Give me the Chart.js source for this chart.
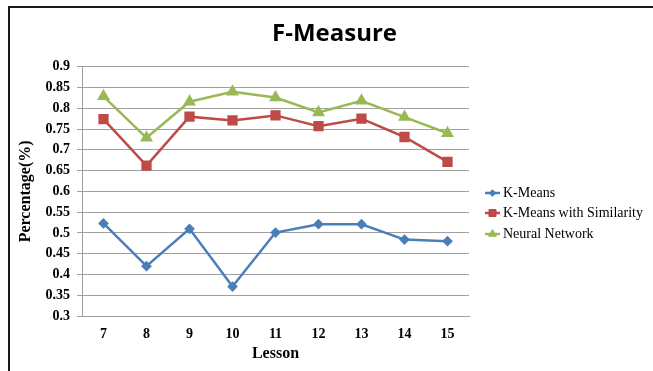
<!DOCTYPE html>
<html>
<head>
<meta charset="utf-8">
<script src="https://cdn.jsdelivr.net/npm/chart.js@4/dist/chart.umd.min.js"></script>
<style>
  html, body { margin: 0; padding: 0; background: #fff; }
  #wrap { width: 653px; height: 371px; }
</style>
</head>
<body>
<div id="wrap"><canvas id="c" width="653" height="371"></canvas></div>
<script>
// Lessons on the x axis
const lessons = ['7', '8', '9', '10', '11', '12', '13', '14', '15'];

// F-Measure per lesson for each method
const kMeans = [0.523, 0.420, 0.510, 0.371, 0.501, 0.521, 0.521, 0.484, 0.480];
const kMeansSimilarity = [0.774, 0.662, 0.780, 0.771, 0.783, 0.757, 0.775, 0.731, 0.671];
const neuralNetwork = [0.829, 0.729, 0.816, 0.840, 0.826, 0.790, 0.818, 0.779, 0.740];

// Percentage axis ticks
const yTicks = [0.3, 0.35, 0.4, 0.45, 0.5, 0.55, 0.6, 0.65, 0.7, 0.75, 0.8, 0.85, 0.9];

const serif = '"Liberation Serif", "Times New Roman", serif';

// Frame lines along the top and left of the figure
const framePlugin = {
  id: 'frame',
  beforeDraw(chart) {
    const ctx = chart.ctx;
    ctx.save();
    ctx.fillStyle = '#1a1a1a';
    ctx.fillRect(8, 6, chart.width - 8, 2);
    ctx.fillRect(8, 6, 2, chart.height - 6);
    ctx.restore();
  }
};

// Legend on the right: short line with the series marker, then the label
const sideLegend = {
  id: 'sideLegend',
  afterDraw(chart) {
    const ctx = chart.ctx;
    const x0 = 485, x1 = 500, tx = 503;
    const rows = [193, 213, 234];
    ctx.save();
    chart.data.datasets.forEach((ds, i) => {
      const y = rows[i];
      ctx.strokeStyle = ds.borderColor;
      ctx.lineWidth = 2.5;
      ctx.beginPath();
      ctx.moveTo(x0, y);
      ctx.lineTo(x1, y);
      ctx.stroke();
      ctx.fillStyle = ds.pointBackgroundColor;
      ctx.strokeStyle = ds.borderColor;
      ctx.lineWidth = 1;
      Chart.helpers.drawPoint(ctx, {
        pointStyle: ds.pointStyle,
        radius: ds.pointRadius * 0.9,
        borderWidth: 1,
        rotation: 0
      }, (x0 + x1) / 2, y);
      ctx.fillStyle = '#000';
      ctx.font = '14px ' + serif;
      ctx.textBaseline = 'middle';
      ctx.textAlign = 'left';
      ctx.fillText(ds.label, tx, y);
    });
    ctx.restore();
  }
};

function series(label, data, color, style, radius) {
  return {
    label,
    data,
    borderColor: color,
    backgroundColor: color,
    pointBackgroundColor: color,
    pointBorderColor: color,
    pointStyle: style,
    pointRadius: radius,
    pointHoverRadius: radius,
    borderWidth: 2.5,
    tension: 0,
    yAxisID: 'y'
  };
}

new Chart(document.getElementById('c'), {
  type: 'line',
  data: {
    labels: lessons,
    datasets: [
      series('K-Means', kMeans, '#4A7EBB', 'rectRot', 3.6),
      series('K-Means with Similarity', kMeansSimilarity, '#BE4B48', 'rect', 5.5),
      series('Neural Network', neuralNetwork, '#98B954', 'triangle', 5)
    ]
  },
  options: {
    responsive: false,
    animation: false,
    layout: { padding: { left: 16, right: 0, top: 0, bottom: 0 } },
    plugins: {
      legend: { display: false },
      tooltip: { enabled: false },
      title: {
        display: true,
        text: 'F-Measure',
        color: '#000',
        font: { family: '"Open Sans", sans-serif', size: 24, weight: 'bold' },
        padding: { top: 20, bottom: 18 }
      }
    },
    scales: {
      x: {
        offset: true,
        grid: { display: false, drawTicks: false },
        border: { display: true, color: '#A0A0A0', width: 1 },
        ticks: {
          color: '#000',
          padding: 10,
          font: { family: serif, size: 14, weight: 'bold' }
        },
        title: {
          display: true,
          text: 'Lesson',
          color: '#000',
          font: { family: serif, size: 16, weight: 'bold' },
          padding: { top: 0, bottom: 8 }
        },
        afterFit(s) { s.height = 55; }
      },
      y: {
        position: 'left',
        min: 0.3,
        max: 0.9,
        afterBuildTicks(s) { s.ticks = yTicks.map(v => ({ value: v })); },
        grid: { color: '#A0A0A0', lineWidth: 1, tickLength: 5, drawTicks: true },
        border: { display: true, color: '#A0A0A0', width: 1 },
        ticks: {
          color: '#000',
          padding: 7,
          font: { family: serif, size: 14, weight: 'bold' },
          callback: v => String(+v.toFixed(2))
        },
        title: {
          display: true,
          text: 'Percentage(%)',
          color: '#000',
          font: { family: serif, size: 16, weight: 'bold' },
          padding: { top: 0, bottom: 0 }
        },
        afterFit(s) { s.width = 66; }
      },
      side: {
        position: 'right',
        display: true,
        grid: { display: false, drawTicks: false },
        border: { display: false },
        ticks: { display: false },
        afterFit(s) { s.width = 184; }
      }
    }
  },
  plugins: [framePlugin, sideLegend]
});
</script>
</body>
</html>
